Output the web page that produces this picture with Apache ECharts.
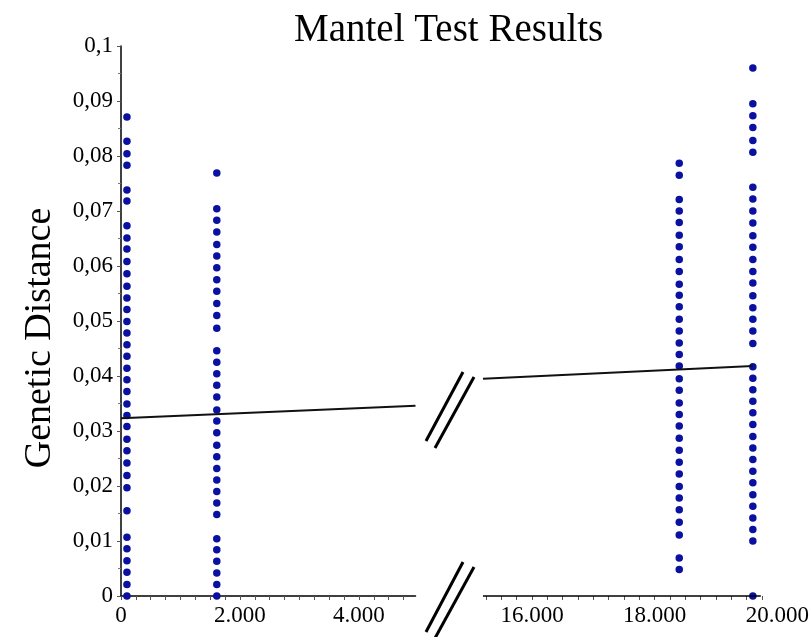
<!DOCTYPE html>
<html><head><meta charset="utf-8">
<script src="https://cdn.jsdelivr.net/npm/echarts@6/dist/echarts.min.js"></script>
<style>html,body{margin:0;padding:0;background:#fff}#c{width:812px;height:637px}</style>
</head><body><div id="c"></div>
<script>
const titleText = 'Mantel Test Results';
const yAxisTitle = 'Genetic Distance';

// geographic distance of each column of points
const columnX = [100, 1610, 18400, 19600];

// genetic distance values of each column
const distCol1 = [0.0871,0.0827,0.0804,0.0783,0.0738,0.0718,0.0673,0.0651,0.0631,0.0608,0.0586,0.0563,0.0542,0.0521,0.0499,0.0478,0.0457,0.0436,0.0414,0.0393,0.0372,0.0349,0.0328,0.0308,0.0285,0.0264,0.0242,0.0219,0.0197,0.0155,0.0107,0.0086,0.0064,0.0043,0.0021,0.0000];
const distCol2 = [0.0769,0.0704,0.0683,0.0662,0.0639,0.0618,0.0597,0.0575,0.0554,0.0532,0.0510,0.0487,0.0446,0.0425,0.0404,0.0383,0.0362,0.0338,0.0318,0.0297,0.0274,0.0253,0.0232,0.0211,0.0190,0.0169,0.0148,0.0104,0.0084,0.0063,0.0042,0.0021,0.0000];
const distCol3 = [0.0787,0.0765,0.0721,0.0700,0.0679,0.0656,0.0635,0.0612,0.0590,0.0567,0.0547,0.0526,0.0503,0.0482,0.0460,0.0439,0.0418,0.0395,0.0374,0.0351,0.0330,0.0309,0.0287,0.0265,0.0243,0.0222,0.0199,0.0178,0.0157,0.0134,0.0111,0.0069,0.0048];
const distCol4 = [0.0960,0.0895,0.0873,0.0852,0.0828,0.0807,0.0743,0.0722,0.0700,0.0678,0.0655,0.0634,0.0612,0.0590,0.0569,0.0546,0.0524,0.0503,0.0482,0.0459,0.0417,0.0396,0.0375,0.0354,0.0333,0.0312,0.0290,0.0269,0.0248,0.0227,0.0206,0.0184,0.0163,0.0142,0.0121,0.0100,0.0000];

// regression line end points, one segment per panel
const trendLeft = [[0, 0.0323], [4950, 0.0346]];
const trendRight = [[15200, 0.0395], [19600, 0.0418]];

// axis ranges and tick labels
const xRangeLeft = [0, 4950];
const xRangeRight = [15200, 20000];
const xAxisLineEndRight = 19730;
const xLabelsLeft = [0, 2000, 4000];
const xLabelsRight = [16000, 18000, 20000];
const xMinorStep = 250;
const yRange = [0, 0.1];
const yStep = 0.01;

const FONT = 'Liberation Serif';
const DOT = '#0a10a0';

function toPts(x, arr) { return arr.map(v => [x, v]); }
function ticksIn(r, step) {
  const out = [];
  for (let v = Math.ceil(r[0] / step) * step; v <= r[1]; v += step) out.push(v);
  return out;
}
function fmtX(v) { return Number(v).toLocaleString('de-DE'); }
function fmtY(v) { return String(+Number(v).toFixed(3)).replace('.', ','); }

const xAxisCommon = {
  type: 'value',
  splitLine: { show: false },
  axisLine: { show: true, onZero: false, lineStyle: { color: '#000', width: 1.5 } },
  axisLabel: { color: '#000', fontFamily: FONT, fontSize: 23, margin: 8, formatter: fmtX },
  axisTick: { show: true, length: 4, lineStyle: { color: '#555', width: 1 } }
};
const dotStyle = { color: DOT, opacity: 1 };

const chart = echarts.init(document.getElementById('c'), null, { renderer: 'canvas' });
chart.setOption({
  animation: false,
  backgroundColor: '#fff',
  title: {
    text: titleText, left: 289, top: 6,
    textStyle: { fontFamily: FONT, fontSize: 39, fontWeight: 'normal', color: '#000' }
  },
  grid: [
    { left: 121, top: 46, width: 294.5, height: 550 },
    { left: 483, top: 46, width: 298, height: 550 }
  ],
  xAxis: [
    Object.assign({}, xAxisCommon, {
      gridIndex: 0, min: xRangeLeft[0], max: xRangeLeft[1],
      axisLabel: Object.assign({}, xAxisCommon.axisLabel, { customValues: xLabelsLeft }),
      axisTick: Object.assign({}, xAxisCommon.axisTick, { customValues: ticksIn(xRangeLeft, xMinorStep) })
    }),
    Object.assign({}, xAxisCommon, {
      gridIndex: 1, min: xRangeRight[0], max: xRangeRight[1],
      axisLine: { show: false },
      axisLabel: Object.assign({}, xAxisCommon.axisLabel, { customValues: xLabelsRight }),
      axisTick: Object.assign({}, xAxisCommon.axisTick, { customValues: ticksIn([xRangeRight[0], xAxisLineEndRight + 30], xMinorStep) })
    })
  ],
  yAxis: [
    {
      gridIndex: 0, type: 'value', min: yRange[0], max: yRange[1], interval: yStep,
      name: yAxisTitle, nameLocation: 'middle', nameRotate: 90, nameGap: 62,
      nameTextStyle: { fontFamily: FONT, fontSize: 38, color: '#000', padding: [0, 34, 0, 0] },
      splitLine: { show: false },
      axisLine: { show: true, lineStyle: { color: '#000', width: 1.5 } },
      axisTick: { show: true, length: 4, lineStyle: { color: '#555' } },
      minorTick: { show: true, splitNumber: 2, length: 3, lineStyle: { color: '#777' } },
      axisLabel: { color: '#000', fontFamily: FONT, fontSize: 23, margin: 8, formatter: fmtY }
    },
    {
      gridIndex: 1, type: 'value', min: yRange[0], max: yRange[1], interval: yStep,
      show: false, splitLine: { show: false }
    }
  ],
  series: [
    { type: 'scatter', xAxisIndex: 0, yAxisIndex: 0, symbolSize: 7.5, itemStyle: dotStyle, data: toPts(columnX[0], distCol1), z: 3 },
    { type: 'scatter', xAxisIndex: 0, yAxisIndex: 0, symbolSize: 7.5, itemStyle: dotStyle, data: toPts(columnX[1], distCol2), z: 3 },
    { type: 'scatter', xAxisIndex: 1, yAxisIndex: 1, symbolSize: 7.5, itemStyle: dotStyle, data: toPts(columnX[2], distCol3), z: 3 },
    { type: 'scatter', xAxisIndex: 1, yAxisIndex: 1, symbolSize: 7.5, itemStyle: dotStyle, data: toPts(columnX[3], distCol4), z: 3 },
    { type: 'line', xAxisIndex: 0, yAxisIndex: 0, data: trendLeft, showSymbol: false, symbol: 'none', lineStyle: { color: '#111', width: 2 }, z: 4 },
    { type: 'line', xAxisIndex: 1, yAxisIndex: 1, data: trendRight, showSymbol: false, symbol: 'none', lineStyle: { color: '#111', width: 2 }, z: 4 }
  ]
});

// right panel axis line (stops short of the last label) and the axis-break marks
const pStart = chart.convertToPixel({ xAxisIndex: 1, yAxisIndex: 1 }, [xRangeRight[0], yRange[0]]);
const pEnd = chart.convertToPixel({ xAxisIndex: 1, yAxisIndex: 1 }, [xAxisLineEndRight, yRange[0]]);
const brk = { stroke: '#000', lineWidth: 3 };
chart.setOption({
  graphic: [
    { type: 'line', shape: { x1: pStart[0], y1: pStart[1], x2: pEnd[0], y2: pEnd[1] }, style: { stroke: '#000', lineWidth: 1.5 }, z: 10 },
    { type: 'line', shape: { x1: 426, y1: 441, x2: 463, y2: 372 }, style: brk, z: 10 },
    { type: 'line', shape: { x1: 435, y1: 448, x2: 474, y2: 377 }, style: brk, z: 10 },
    { type: 'line', shape: { x1: 426, y1: 632, x2: 463, y2: 562 }, style: brk, z: 10 },
    { type: 'line', shape: { x1: 434, y1: 640, x2: 474, y2: 567 }, style: brk, z: 10 }
  ]
});
</script>
</body></html>
